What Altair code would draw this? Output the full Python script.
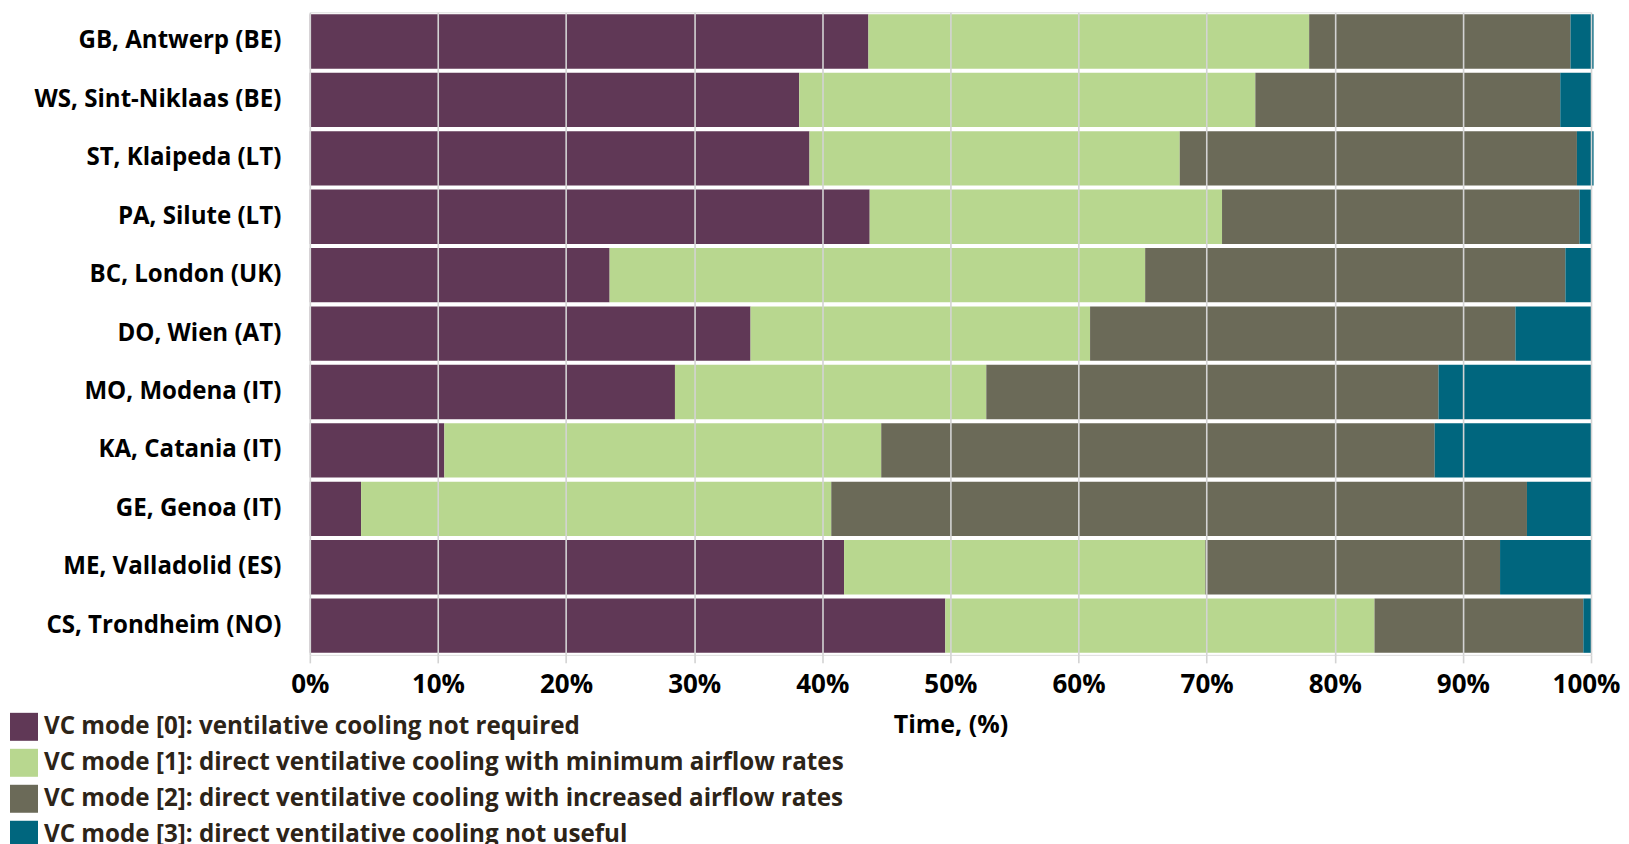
import altair as alt
import pandas as pd

locations = [
    "GB, Antwerp (BE)",
    "WS, Sint-Niklaas (BE)",
    "ST, Klaipeda (LT)",
    "PA, Silute (LT)",
    "BC, London (UK)",
    "DO, Wien (AT)",
    "MO, Modena (IT)",
    "KA, Catania (IT)",
    "GE, Genoa (IT)",
    "ME, Valladolid (ES)",
    "CS, Trondheim (NO)",
]

modes = [
    "VC mode [0]: ventilative cooling not required",
    "VC mode [1]: direct ventilative cooling with minimum airflow rates",
    "VC mode [2]: direct ventilative cooling with increased airflow rates",
    "VC mode [3]: direct ventilative cooling not useful",
]

mode0 = [43.6, 38.2, 39.0, 43.7, 23.4, 34.4, 28.5, 10.5, 4.0, 41.7, 49.6]
mode1 = [34.4, 35.6, 28.9, 27.5, 41.8, 26.5, 24.3, 34.1, 36.7, 28.2, 33.5]
mode2 = [20.4, 23.8, 31.0, 27.9, 32.8, 33.2, 35.3, 43.2, 54.3, 23.0, 16.3]
mode3 = [1.8, 2.4, 1.3, 0.9, 2.0, 5.9, 11.9, 12.2, 5.0, 7.1, 0.6]

tick_values = [0.0, 0.1, 0.2, 0.3, 0.4, 0.5, 0.6, 0.7, 0.8, 0.9, 1.0]

colors = ["#603856", "#b8d78f", "#6b6a58", "#00667e"]

FONT = "Open Sans"

rows = []
for i, loc in enumerate(locations):
    for k, series in enumerate([mode0, mode1, mode2, mode3]):
        rows.append({"location": loc, "mode": modes[k], "order": k, "value": series[i] / 100.0})
df = pd.DataFrame(rows)

chart = alt.Chart(df).mark_bar().encode(
    y=alt.Y(
        "location:N",
        sort=locations,
        scale=alt.Scale(paddingInner=0.07, paddingOuter=0.035),
        axis=alt.Axis(
            title=None,
            ticks=False,
            domain=False,
            labelFont=FONT,
            labelFontWeight="bold",
            labelFontSize=24.1,
            labelColor="#000000",
            labelPadding=29,
            labelLimit=400,
        ),
    ),
    x=alt.X(
        "value:Q",
        stack="zero",
        scale=alt.Scale(domain=[0, 1], nice=False, clamp=False),
        axis=alt.Axis(
            title="Time, (%)",
            format=".0%",
            values=tick_values,
            grid=True,
            gridColor="#d3d3d3",
            gridWidth=1.6,
            domain=False,
            ticks=True,
            tickColor="#d3d3d3",
            tickWidth=1.6,
            tickSize=8,
            labelFont=FONT,
            labelFontWeight="bold",
            labelFontSize=26,
            labelColor="#000000",
            labelPadding=9,
            labelFlush=False,
            labelOffset={"condition": {"test": "datum.value >= 1", "value": -5}, "value": 0},
            titleFont=FONT,
            titleFontWeight="bold",
            titleFontSize=25,
            titleColor="#000000",
            titlePadding=15,
            zindex=1,
        ),
    ),
    color=alt.Color(
        "mode:N",
        sort=modes,
        scale=alt.Scale(domain=modes, range=colors),
        legend=alt.Legend(
            title=None,
            orient="none",
            legendX=-300,
            legendY=701,
            direction="vertical",
            symbolType="square",
            symbolSize=784,
            symbolStrokeWidth=0,
            symbolOpacity=1,
            labelFont=FONT,
            labelFontWeight="bold",
            labelFontSize=24.2,
            labelColor="#2d2418",
            labelOffset=6,
            labelLimit=1200,
            rowPadding=8,
            padding=0,
        ),
    ),
    order=alt.Order("order:Q", sort="ascending"),
).properties(
    width=1282,
    height=643,
    padding={"left": 2, "top": 4, "right": 0, "bottom": 0},
).configure_view(
    strokeWidth=0
).configure(
    background="#ffffff"
)

chart.save("out.html", embed_options={"renderer": "svg", "actions": False})
